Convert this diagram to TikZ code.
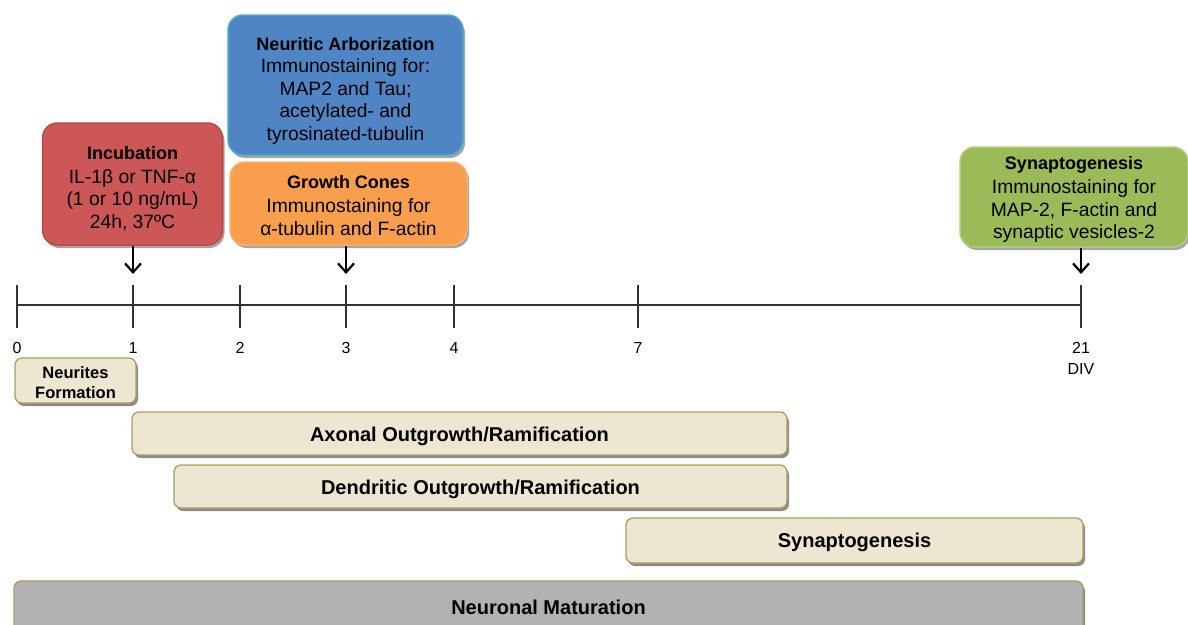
\documentclass[tikz,border=0pt]{standalone}
\usepackage{fontspec}
\setmainfont{Liberation Sans}
\usetikzlibrary{arrows.meta,shadows}
\definecolor{incred}{HTML}{CD5656}
\definecolor{incredb}{HTML}{B84A47}
\definecolor{arbblue}{HTML}{4F85C4}
\definecolor{arbblueb}{HTML}{4BACC6}
\definecolor{gcorange}{HTML}{F89E4C}
\definecolor{gcorangeb}{HTML}{F6B070}
\definecolor{syngreen}{HTML}{9BBB59}
\definecolor{syngreenb}{HTML}{B2CD7C}
\definecolor{barbeige}{HTML}{EDE7D1}
\definecolor{barborder}{HTML}{A89E62}
\definecolor{bargray}{HTML}{B2B2B2}
\definecolor{axis}{HTML}{333333}
\tikzset{
  topbox/.style={rounded corners=15pt, line width=1.5pt, inner sep=0pt,
    drop shadow={shadow xshift=2pt, shadow yshift=-3pt, opacity=0.35, fill=black}},
  toptext/.style={align=center, inner sep=0pt, font={\fontsize{19.3}{22.5}\selectfont}},
  barbox/.style={rounded corners=7pt, line width=1.3pt, draw=barborder, fill=barbeige,
    inner sep=0pt,
    drop shadow={shadow xshift=2pt, shadow yshift=-3pt, opacity=0.45, fill=black}},
  bartext/.style={align=center, inner sep=0pt, font={\bfseries\fontsize{20}{22}\selectfont}},
  ticklab/.style={font={\fontsize{16}{20}\selectfont}, inner sep=0pt, align=center},
  arr/.style={line width=2.2pt, -{Straight Barb[length=9pt,width=16pt,line width=2.2pt]}}
}
\newcommand\ttlfont{\bfseries\fontsize{18}{22.5}\selectfont}
\begin{document}
\begin{tikzpicture}[x=1pt,y=-1pt]
\clip (0,0) rectangle (1188,624);
\fill[white] (0,0) rectangle (1188,624);

% top boxes
\node[topbox, fill=arbblue, draw=arbblueb, minimum width=235pt, minimum height=140pt] (arb) at (345.5,85) {};
\node[toptext] (arbt) at (345.5,90.5)
  {{\ttlfont Neuritic Arborization}\\Immunostaining for:\\MAP2 and Tau;\\acetylated- and\\tyrosinated-tubulin};
\node[topbox, fill=incred, draw=incredb, minimum width=180pt, minimum height=122pt] (inc) at (132.5,184) {};
\node[toptext] (inct) at (132.5,188.5)
  {{\ttlfont Incubation}\\[1.5pt]IL-1β or TNF-α\\(1 or 10 ng/mL)\\24h, 37ºC};
\node[topbox, fill=gcorange, draw=gcorangeb, minimum width=237pt, minimum height=83pt] (gc) at (348.5,203.5) {};
\node[toptext] (gct) at (348.5,205.5)
  {{\ttlfont Growth Cones}\\[1.5pt]Immunostaining for\\α-tubulin and F-actin};
\node[topbox, fill=syngreen, draw=syngreenb, minimum width=228pt, minimum height=100pt] (syn) at (1074,197) {};
\node[toptext] (synt) at (1074,199.5)
  {{\ttlfont Synaptogenesis}\\[2pt]Immunostaining for\\MAP-2, F-actin and\\synaptic vesicles-2};

% timeline
\coordinate (t0) at (17,305);
\coordinate (t1) at (133,305);
\coordinate (t2) at (240,305);
\coordinate (t3) at (346,305);
\coordinate (t4) at (454,305);
\coordinate (t7) at (638,305);
\coordinate (t21) at (1081,305);
\draw[axis, line width=1.4pt] (t0) -- (t21);
\foreach \t in {t0,t1,t2,t3,t4,t7,t21}
  \draw[axis, line width=1.4pt] ([yshift=20pt]\t) -- ([yshift=-23pt]\t);
\node[ticklab] (l0) at (17,348) {0};
\node[ticklab] (l1) at (133,348) {1};
\node[ticklab] (l2) at (240,348) {2};
\node[ticklab] (l3) at (346,348) {3};
\node[ticklab] (l4) at (454,348) {4};
\node[ticklab] (l7) at (638,348) {7};
\node[ticklab] (l21) at (1081,348) {21};
\node[ticklab] (ldiv) at (1081,369) {DIV};

% arrows
\coordinate (a1) at (133,274);
\coordinate (a3) at (346,274);
\coordinate (a21) at (1081,274);
\draw[arr] (inc.south -| a1) -- (a1);
\draw[arr] (gc.south -| a3) -- (a3);
\draw[arr] (syn.south -| a21) -- (a21);

% bars
\node[barbox, minimum width=121pt, minimum height=45pt] (nf) at (75.5,380.5) {};
\node[bartext, font={\bfseries\fontsize{16.5}{20}\selectfont}] (nft) at (75.5,383) {Neurites\\Formation};
\node[barbox, minimum width=655pt, minimum height=43pt] (ax) at (459.5,433.5) {};
\node[bartext] (axt) at (459.5,436) {Axonal Outgrowth/Ramification};
\node[barbox, minimum width=613pt, minimum height=43pt] (de) at (480.5,486.5) {};
\node[bartext] (det) at (480.5,489) {Dendritic Outgrowth/Ramification};
\node[barbox, minimum width=457pt, minimum height=45pt] (sy) at (854.5,540.5) {};
\node[bartext] (syt) at (854.5,542) {Synaptogenesis};
\node[barbox, fill=bargray, minimum width=1069pt, minimum height=52pt] (nm) at (548.5,607) {};
\node[bartext] (nmt) at (548.5,607) {Neuronal Maturation};
\end{tikzpicture}
\end{document}
